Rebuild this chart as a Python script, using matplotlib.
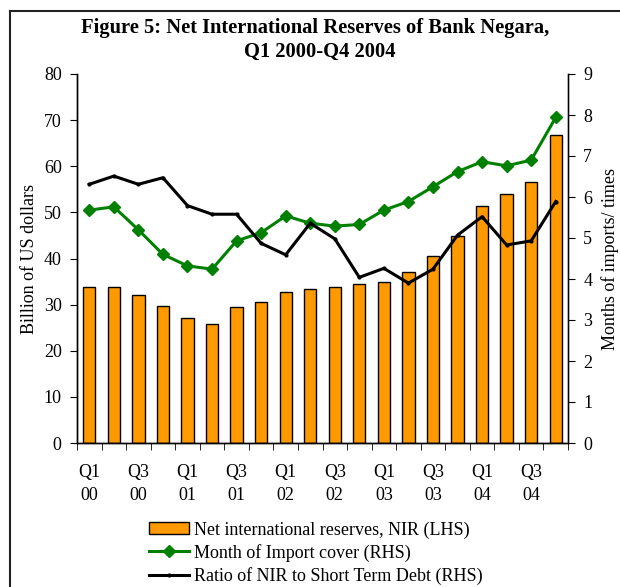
import matplotlib

matplotlib.use("Agg")

import matplotlib.pyplot as plt
from matplotlib.lines import Line2D
import numpy as np

plt.rcParams["font.family"] = ["Liberation Serif", "DejaVu Serif"]

quarters = ["Q1\n00", "Q2\n00", "Q3\n00", "Q4\n00",
            "Q1\n01", "Q2\n01", "Q3\n01", "Q4\n01",
            "Q1\n02", "Q2\n02", "Q3\n02", "Q4\n02",
            "Q1\n03", "Q2\n03", "Q3\n03", "Q4\n03",
            "Q1\n04", "Q2\n04", "Q3\n04", "Q4\n04"]
nir = [33.8, 33.8, 32.0, 29.8, 27.0, 25.9, 29.5, 30.5, 32.8, 33.4,
       33.8, 34.5, 34.9, 37.1, 40.6, 44.9, 51.4, 53.9, 56.6, 66.7]
import_cover = [5.68, 5.76, 5.20, 4.60, 4.32, 4.24, 4.93, 5.13, 5.54, 5.36,
                5.29, 5.33, 5.68, 5.89, 6.25, 6.62, 6.86, 6.76, 6.90, 7.94]
nir_to_std = [6.31, 6.51, 6.31, 6.47, 5.79, 5.58, 5.58, 4.87, 4.59, 5.36,
              4.98, 4.04, 4.26, 3.90, 4.24, 5.07, 5.52, 4.83, 4.93, 5.89]

x = np.arange(len(quarters))

fig = plt.figure(figsize=(6.2, 5.87), dpi=100)
ax = fig.add_axes([77 / 620, 1 - 443 / 587, 491 / 620, 369 / 587])
ax2 = ax.twinx()

bars = ax.bar(x, nir, width=0.5, color="#FF9900", edgecolor="black",
              linewidth=1.0, label="Net international reserves, NIR (LHS)")
green, = ax2.plot(x, import_cover, color="#008000", linewidth=2.2, marker="D",
                  markersize=6, label="Month of Import cover (RHS)")
black, = ax2.plot(x, nir_to_std, color="black", linewidth=2.2, marker="o",
                  markersize=2, label="Ratio of NIR to Short Term Debt (RHS)")

ax.set_xlim(-0.5, len(quarters) - 0.5)
ax.set_ylim(0, 80)
ax2.set_ylim(0, 9)
ax.set_yticks(np.arange(0, 81, 10))
ax2.set_yticks(np.arange(0, 10, 1))

ax.set_xticks(x[::2])
ax.set_xticklabels(quarters[::2], linespacing=1.45)
ax.set_xticks(np.arange(-0.5, len(quarters)), minor=True)
ax.tick_params(axis="x", which="major", length=0, pad=15, labelsize=13)
ax.tick_params(axis="x", which="minor", length=5, direction="out")
ax.tick_params(axis="y", length=5, direction="out", labelsize=13, pad=6)
ax2.tick_params(axis="y", length=5, direction="out", labelsize=13, pad=6)

for a in (ax, ax2):
    a.spines["top"].set_visible(False)
    for s in a.spines.values():
        s.set_linewidth(1.0)
ax.spines["right"].set_color("#555555")

ax.set_ylabel("Billion of US dollars", fontsize=13, labelpad=4)
ax2.set_ylabel("Months of imports/ times", fontsize=13, labelpad=6)

fig.text(0.508, 1 - 28 / 587, "Figure 5: Net International Reserves of Bank Negara,",
         ha="center", va="center", fontsize=14.8, fontweight="bold")
fig.text(0.515, 1 - 52 / 587, "Q1 2000-Q4 2004",
         ha="center", va="center", fontsize=14.8, fontweight="bold")

fig.legend(handles=[bars, green, black], loc="upper left",
           bbox_to_anchor=(142 / 620, 1 - 514 / 587), frameon=False,
           fontsize=13, handlelength=2.2, handletextpad=0.3,
           labelspacing=0.29, borderaxespad=0)

# frame lines at the left and top of the picture
fig.add_artist(Line2D([10 / 620, 10 / 620], [0, 1 - 11 / 587], transform=fig.transFigure,
                      color="#222222", linewidth=1.5))
fig.add_artist(Line2D([10 / 620, 1], [1 - 11 / 587, 1 - 11 / 587], transform=fig.transFigure,
                      color="#222222", linewidth=1.5))

fig.savefig("out.png", dpi=100)
